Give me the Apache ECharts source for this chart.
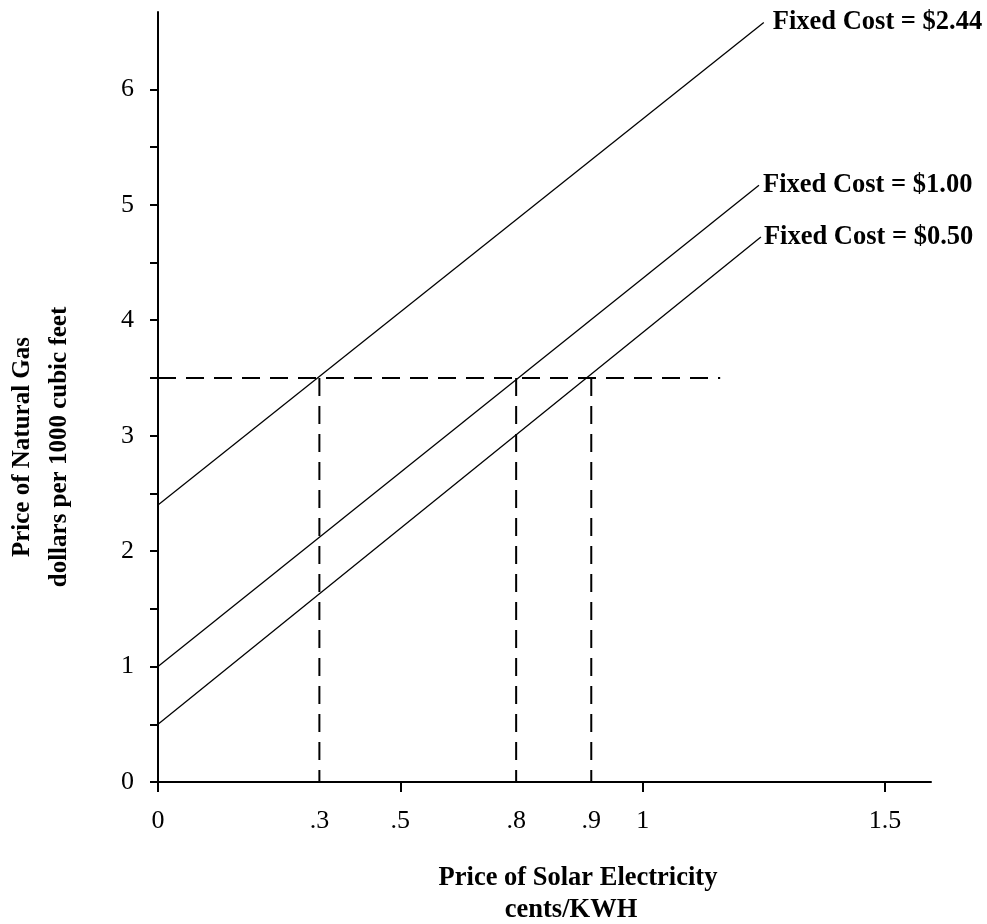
<!DOCTYPE html>
<html>
<head>
	<meta charset="utf-8"/>
	<title>Solar vs Natural Gas</title>
	<style>
		* {
			margin: 0;
			padding: 0;
		}
		body {
			background: #fff;
		}
	</style>
</head>
<body>

	<div style="width: 987px;height:924px;background: #fff;" id="myChart"></div>

	<script src="https://cdn.jsdelivr.net/npm/echarts@6/dist/echarts.min.js"></script>
	<script>
		// break-even lines, one per fixed cost: [solar price, gas price]
		var costNames = ['Fixed Cost = $2.44', 'Fixed Cost = $1.00', 'Fixed Cost = $0.50'];
		var line244 = [[0, 2.40], [1.25, 6.58]];
		var line100 = [[0, 1.00], [1.24, 5.17]];
		var line050 = [[0, 0.50], [1.244, 4.72]];

		// gas price 3.5 and where it meets each line
		var gasPrice = 3.5;
		var gasLineEnd = 1.16;
		var crossX = [0.333, 0.739, 0.894];

		// tick labels
		var xTickValues = [0, 0.5, 1, 1.5];
		var xLabelValues = [0, 0.333, 0.5, 0.739, 0.894, 1, 1.5];
		var xLabelTexts = ['0', '.3', '.5', '.8', '.9', '1', '1.5'];
		var yTickValues = [0, 0.5, 1, 1.5, 2, 2.5, 3, 3.5, 4, 4.5, 5, 5.5, 6];
		var yLabelValues = [0, 1, 2, 3, 4, 5, 6];

		var serif = '"Liberation Serif", "Times New Roman", serif';

		var myChart = echarts.init(document.getElementById('myChart'));

		function solid(name, data, dist) {
			return {
				name: name,
				type: 'line',
				data: data,
				symbol: 'none',
				silent: true,
				lineStyle: {color: '#000', width: 1.3},
				endLabel: {
					show: true,
					formatter: '{a}',
					distance: dist,
					color: '#000',
					fontFamily: serif,
					fontWeight: 'bold',
					fontSize: 26.5
				}
			};
		}

		function dashed(data) {
			return {
				type: 'line',
				data: data,
				symbol: 'none',
				silent: true,
				lineStyle: {color: '#000', width: 2, type: [18, 10]}
			};
		}

		var series = [
			solid(costNames[0], line244, 9),
			solid(costNames[1], line100, 4),
			solid(costNames[2], line050, 3),
			dashed([[0, gasPrice], [gasLineEnd, gasPrice]])
		];
		crossX.forEach(function (x) {
			series.push(dashed([[x, gasPrice], [x, 0]]));
		});

		var option = {
			animation: false,
			grid: {left: 158, right: 56, top: 12, bottom: 142, outerBoundsMode: 'none'},
			xAxis: {
				type: 'value',
				min: 0,
				max: 1.595,
				splitLine: {show: false},
				axisLine: {lineStyle: {color: '#000', width: 2}},
				axisTick: {show: true, customValues: xTickValues, length: 10, lineStyle: {color: '#000', width: 2}},
				axisLabel: {
					customValues: xLabelValues,
					formatter: function (v) {
						var i = xLabelValues.indexOf(v);
						return i >= 0 ? xLabelTexts[i] : '';
					},
					margin: 26,
					color: '#000',
					fontFamily: serif,
					fontSize: 26
				}
			},
			yAxis: {
				type: 'value',
				min: 0,
				max: 6.67,
				splitLine: {show: false},
				axisLine: {show: true, lineStyle: {color: '#000', width: 2}},
				axisTick: {show: true, customValues: yTickValues, length: 8, lineStyle: {color: '#000', width: 2}},
				axisLabel: {
					customValues: yLabelValues,
					margin: 24,
					color: '#000',
					fontFamily: serif,
					fontSize: 26
				}
			},
			graphic: [
				{
					type: 'text',
					x: 41,
					y: 447,
					rotation: Math.PI / 2,
					style: {
						text: 'Price of Natural Gas\ndollars per 1000 cubic feet',
						align: 'center',
						verticalAlign: 'middle',
						lineHeight: 37,
						fill: '#000',
						font: 'bold 25px ' + serif
					}
				},
				{
					type: 'text',
					x: 578,
					y: 878,
					style: {
						text: 'Price of Solar Electricity',
						align: 'center',
						verticalAlign: 'middle',
						fill: '#000',
						font: 'bold 26.5px ' + serif
					}
				},
				{
					type: 'text',
					x: 571,
					y: 910,
					style: {
						text: 'cents/KWH',
						align: 'center',
						verticalAlign: 'middle',
						fill: '#000',
						font: 'bold 26.5px ' + serif
					}
				}
			],
			series: series
		};

		myChart.setOption(option);
	</script>
</body>
</html>
